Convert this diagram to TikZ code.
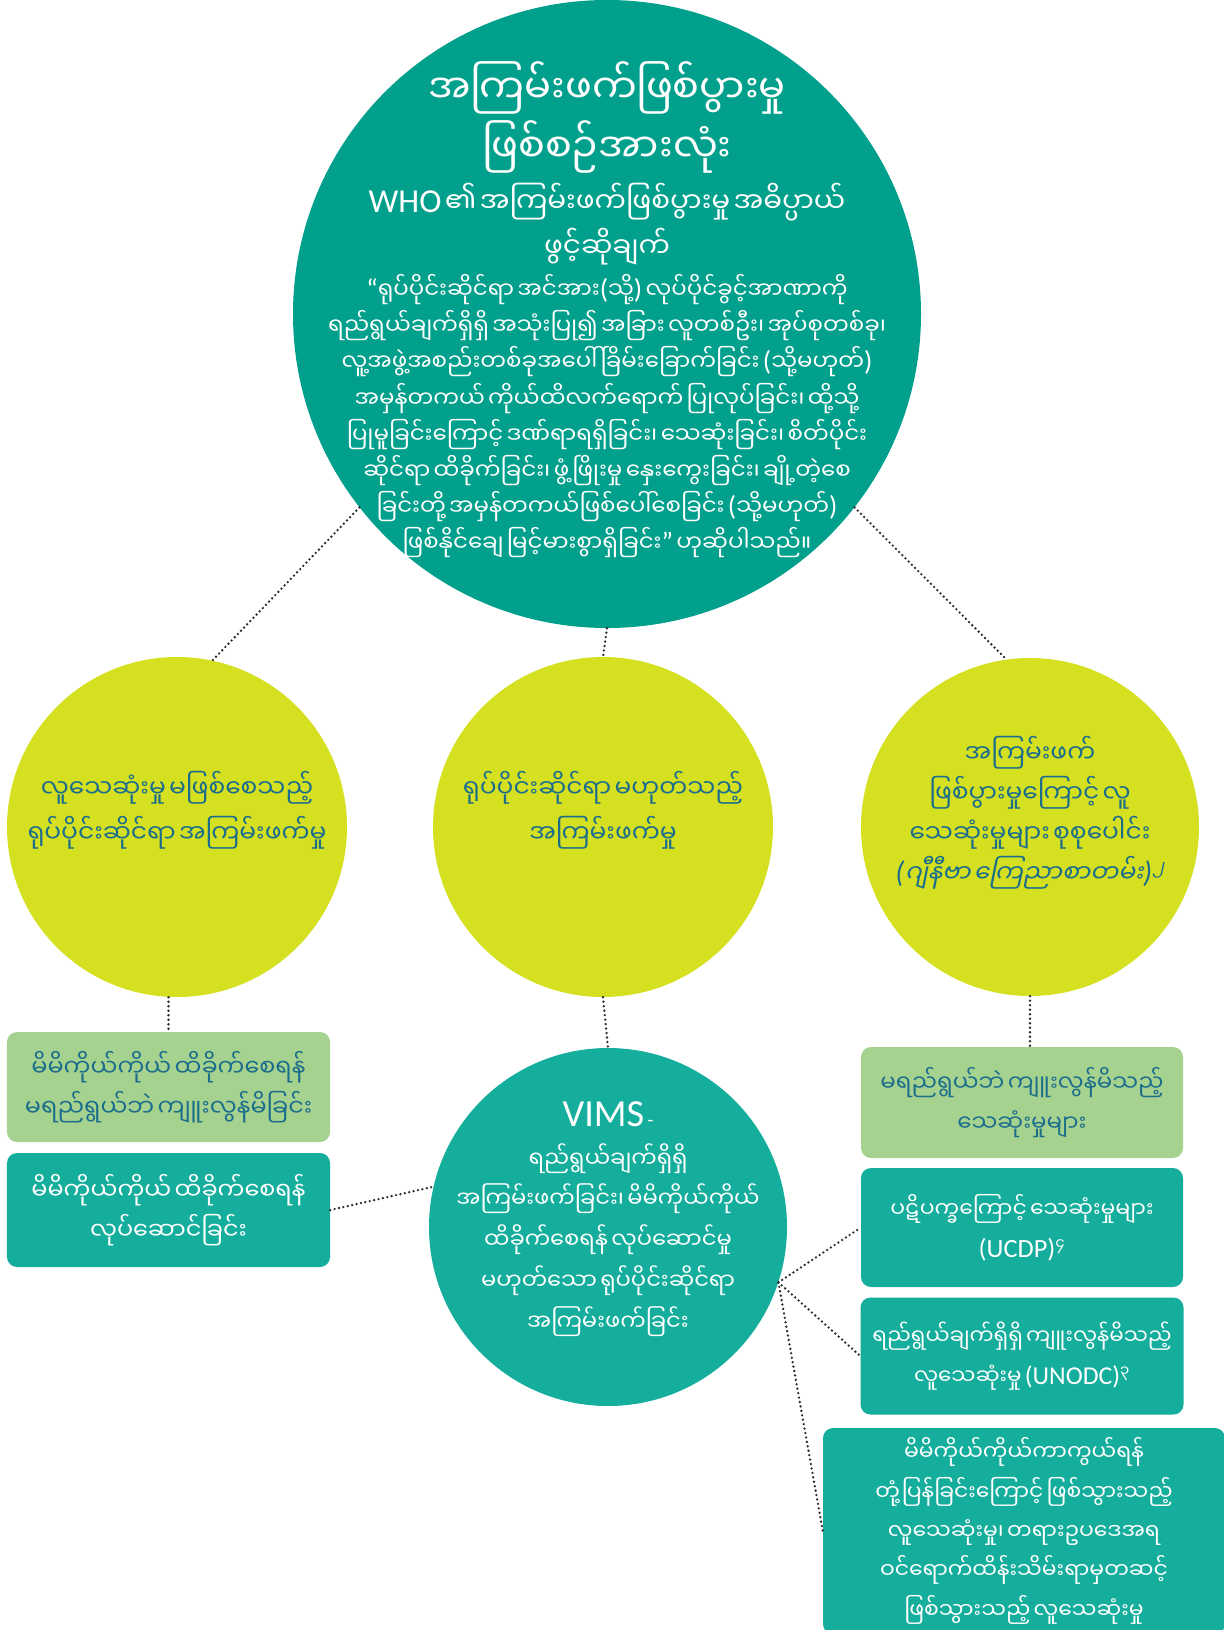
\documentclass[tikz,border=0pt]{standalone}
\usepackage{fontspec}
\setmainfont{Carlito}[Scale=1.2]
\newfontfamily\mmfont[Script=Myanmar]{Noto Sans Myanmar UI}
\newfontfamily\mmslant[Script=Myanmar,FakeSlant=0.2]{Noto Sans Myanmar UI}
\usetikzlibrary{positioning}

\definecolor{deepteal}{HTML}{00A08C}
\definecolor{vimsteal}{HTML}{15AE9D}
\definecolor{limegreen}{HTML}{D5E021}
\definecolor{leaf}{HTML}{A6D28F}
\definecolor{ink}{HTML}{1B6D8C}
\definecolor{dotgray}{HTML}{2A2A2A}

\newcommand\en[1]{{\rmfamily#1}}

\begin{document}
\begin{tikzpicture}[x=1bp,y=1bp,
  bubble/.style={circle,inner sep=-4cm,align=center,font=\mmfont},
  card/.style={rectangle,rounded corners=10bp,inner sep=0pt,align=center,font=\mmfont,text width=316bp},
  link/.style={draw=dotgray,line width=2.6bp,line cap=round,dash pattern=on 0pt off 4.5bp}]

\useasboundingbox (0,0) rectangle (1223,-1630);

% all violence
\node[bubble,fill=deepteal,text=white,minimum size=628bp,text width=610bp] (all) at (607,-314) {%
{\fontsize{40}{59}\selectfont အကြမ်းဖက်ဖြစ်ပွားမှု\\ဖြစ်စဉ်အားလုံး\par}
\vspace{5bp}
{\fontsize{28}{45}\selectfont \en{WHO} ၏ အကြမ်းဖက်ဖြစ်ပွားမှု အဓိပ္ပာယ်\\ဖွင့်ဆိုချက်\par}
\vspace{5bp}
{\fontsize{23}{36.3}\selectfont
\en{“}ရုပ်ပိုင်းဆိုင်ရာ အင်အား\en{(}သို့\en{)} လုပ်ပိုင်ခွင့်အာဏာကို\\
ရည်ရွယ်ချက်ရှိရှိ အသုံးပြု၍ အခြား လူတစ်ဦး၊ အုပ်စုတစ်ခု၊\\
လူ့အဖွဲ့အစည်းတစ်ခုအပေါ် ခြိမ်းခြောက်ခြင်း \en{(}သို့မဟုတ်\en{)}\\
အမှန်တကယ် ကိုယ်ထိလက်ရောက် ပြုလုပ်ခြင်း၊ ထို့သို့\\
ပြုမူခြင်းကြောင့် ဒဏ်ရာရရှိခြင်း၊ သေဆုံးခြင်း၊ စိတ်ပိုင်း\\
ဆိုင်ရာ ထိခိုက်ခြင်း၊ ဖွံ့ဖြိုးမှု နှေးကွေးခြင်း၊ ချို့တဲ့စေ\\
ခြင်းတို့ အမှန်တကယ်ဖြစ်ပေါ်စေခြင်း \en{(}သို့မဟုတ်\en{)}\\
ဖြစ်နိုင်ချေ မြင့်မားစွာရှိခြင်း\en{”} ဟုဆိုပါသည်။\par}
\vspace{8bp}};

% three kinds
\node[bubble,fill=limegreen,text=ink,minimum size=340bp,text width=334bp] (phys) at (177,-827) {%
{\fontsize{25}{45}\selectfont လူသေဆုံးမှု မဖြစ်စေသည့်\\ရုပ်ပိုင်းဆိုင်ရာ အကြမ်းဖက်မှု\par}\vspace{34bp}};
\node[bubble,fill=limegreen,text=ink,minimum size=340bp,text width=334bp] (nonphys) at (603,-827) {%
{\fontsize{25}{45}\selectfont ရုပ်ပိုင်းဆိုင်ရာ မဟုတ်သည့်\\အကြမ်းဖက်မှု\par}\vspace{34bp}};
\node[bubble,fill=limegreen,text=ink,minimum size=338bp,text width=334bp] (deaths) at (1030,-827) {%
{\fontsize{25}{40}\selectfont အကြမ်းဖက်\\ဖြစ်ပွားမှုကြောင့် လူ\\သေဆုံးမှုများ စုစုပေါင်း\\
{\mmslant\en{\itshape(}ဂျီနီဗာ ကြေညာစာတမ်း\en{\itshape)}\textsuperscript{၂}}\par}\vspace{28bp}};

% VIMS
\node[bubble,fill=vimsteal,text=white,minimum size=358bp,text width=346bp] (vims) at (608,-1227) {%
{\fontsize{32}{40}\selectfont\en{VIMS} {\fontsize{16}{20}\selectfont\en{-}}\par}
{\fontsize{22.7}{41}\selectfont ရည်ရွယ်ချက်ရှိရှိ\\အကြမ်းဖက်ခြင်း၊ မိမိကိုယ်ကိုယ်\\ထိခိုက်စေရန် လုပ်ဆောင်မှု\\
မဟုတ်သော ရုပ်ပိုင်းဆိုင်ရာ\\အကြမ်းဖက်ခြင်း\par}\vspace{16bp}};

% left boxes
\node[card,fill=leaf,text=ink,minimum width=323bp,minimum height=110bp] (unint) at (168.5,-1087) {%
{\fontsize{24}{40}\selectfont မိမိကိုယ်ကိုယ် ထိခိုက်စေရန်\\မရည်ရွယ်ဘဲ ကျူးလွန်မိခြင်း\par}};
\node[card,fill=vimsteal,text=white,minimum width=323bp,minimum height=114bp] (selfharm) at (168.5,-1210) {%
{\fontsize{24}{40}\selectfont မိမိကိုယ်ကိုယ် ထိခိုက်စေရန်\\လုပ်ဆောင်ခြင်း\par}};

% right boxes
\node[card,fill=leaf,text=ink,minimum width=322bp,minimum height=111bp] (accid) at (1022,-1102.5) {%
{\fontsize{23}{40}\selectfont မရည်ရွယ်ဘဲ ကျူးလွန်မိသည့်\\သေဆုံးမှုများ\par}};
\node[card,fill=vimsteal,text=white,minimum width=322bp,minimum height=119bp] (conflict) at (1022,-1227.5) {%
{\fontsize{22}{40}\selectfont ပဋိပက္ခကြောင့် သေဆုံးမှုများ\\\en{(UCDP)}\textsuperscript{၄}\par}};
\node[card,fill=vimsteal,text=white,minimum width=323bp,minimum height=117bp] (homicide) at (1022,-1356) {%
{\fontsize{21.5}{40}\selectfont ရည်ရွယ်ချက်ရှိရှိ ကျူးလွန်မိသည့်\\လူသေဆုံးမှု \en{(UNODC)}\textsuperscript{၃}\par}};
\node[card,fill=vimsteal,text=white,text width=394bp,minimum width=402bp,minimum height=206bp] (legal) at (1024,-1531) {%
{\fontsize{22}{39.5}\selectfont မိမိကိုယ်ကိုယ်ကာကွယ်ရန်\\တုံ့ပြန်ခြင်းကြောင့် ဖြစ်သွားသည့်\\လူသေဆုံးမှု၊ တရားဥပဒေအရ\\
ဝင်ရောက်ထိန်းသိမ်းရာမှတဆင့်\\ဖြစ်သွားသည့် လူသေဆုံးမှု\par}};

% links
\draw[link] (all.218.5) -- (phys.78);
\draw[link] (all.south) -- (nonphys.north);
\draw[link] (all.-38.5) -- (deaths.98);
\draw[link] (unint.north |- phys.south) -- (unint.north);
\draw[link] (nonphys.south) -- (vims.north);
\draw[link] (deaths.south) -- (deaths.south |- accid.north);
\draw[link] (selfharm.east) -- (vims.167);
\draw[link] (vims.-18) -- (conflict.west);
\draw[link] (vims.-18) -- (homicide.west);
\draw[link] (vims.-18) -- (legal.west);

\end{tikzpicture}
\end{document}
